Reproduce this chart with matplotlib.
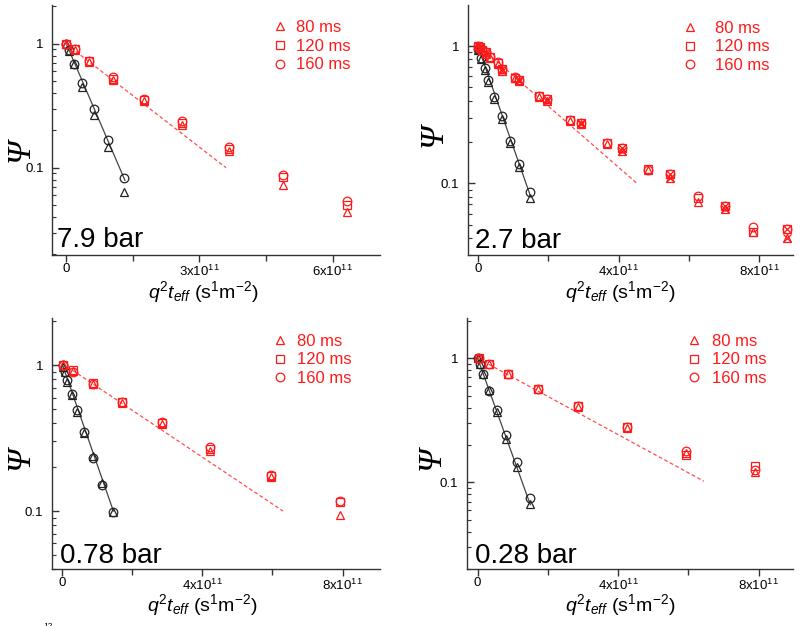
import numpy as np
import matplotlib
matplotlib.use('Agg')
import matplotlib.pyplot as plt
from matplotlib.ticker import LogLocator, NullFormatter, FixedLocator

plt.rcParams['font.family'] = ['Liberation Sans', 'DejaVu Sans']
plt.rcParams['mathtext.fontset'] = 'custom'
plt.rcParams['mathtext.rm'] = 'Liberation Sans'
plt.rcParams['mathtext.it'] = 'Liberation Sans:italic'

# ---- 7.9 bar ----
p1_red_x = [0, 2.0e10, 5.2e10, 1.06e11, 1.75e11, 2.62e11, 3.67e11, 4.88e11, 6.31e11]
p1_red_tri = [1.0, 0.89, 0.71, 0.51, 0.345, 0.222, 0.137, 0.073, 0.044]
p1_red_sq = [1.0, 0.90, 0.72, 0.52, 0.352, 0.230, 0.142, 0.084, 0.050]
p1_red_circ = [1.0, 0.90, 0.725, 0.535, 0.360, 0.237, 0.148, 0.087, 0.054]
p1_blk_x = [0, 7e9, 1.8e10, 3.75e10, 6.4e10, 9.4e10, 1.31e11]
p1_blk_tri = [1.0, 0.87, 0.68, 0.45, 0.268, 0.148, 0.064]
p1_blk_circ = [1.0, 0.89, 0.69, 0.48, 0.296, 0.167, 0.082]
p1_fit_red_x = [0, 3.6e11]
p1_fit_red_y = [1.0, 0.10]
p1_fit_blk_x = [0, 1.33e11]
p1_fit_blk_y = [1.02, 0.079]

# ---- 2.7 bar ----
p2_red_x = [0, 1.2e10, 3.5e10, 5.8e10, 1.06e11, 1.75e11, 2.62e11, 3.66e11, 4.85e11, 6.25e11, 7.83e11]
p2_red_tri = [1.0, 0.93, 0.82, 0.74, 0.58, 0.425, 0.285, 0.192, 0.124, 0.0735, 0.044]
p2_red_sq = [1.0, 0.94, 0.83, 0.75, 0.585, 0.435, 0.290, 0.197, 0.128, 0.078, 0.0441]
p2_red_circ = [1.0, 0.94, 0.835, 0.76, 0.59, 0.435, 0.290, 0.195, 0.125, 0.081, 0.0483]
p2_hat_x = [5e9, 2.2e10, 6.8e10, 1.18e11, 1.96e11, 2.94e11, 4.09e11, 5.46e11, 7.02e11, 8.78e11]
p2_hat_tri = [0.97, 0.88, 0.66, 0.555, 0.400, 0.268, 0.173, 0.110, 0.065, 0.040]
p2_hat_circ = [0.99, 0.90, 0.68, 0.570, 0.412, 0.276, 0.180, 0.117, 0.068, 0.046]
p2_blk_x = [0, 9e9, 1.9e10, 3.0e10, 4.7e10, 6.8e10, 9.2e10, 1.17e11, 1.49e11]
p2_blk_tri = [0.93, 0.80, 0.67, 0.55, 0.41, 0.295, 0.198, 0.132, 0.078]
p2_blk_circ = [0.95, 0.82, 0.69, 0.57, 0.425, 0.31, 0.203, 0.138, 0.086]
p2_fit_red_x = [0, 4.52e11]
p2_fit_red_y = [1.02, 0.10]
p2_fit_blk_x = [0, 1.5e11]
p2_fit_blk_y = [1.0, 0.08]

# ---- 0.78 bar ----
p3_red_x = [3e9, 3.1e10, 8.8e10, 1.71e11, 2.84e11, 4.23e11, 5.95e11, 7.92e11]
p3_red_tri = [1.0, 0.91, 0.745, 0.555, 0.395, 0.257, 0.172, 0.094]
p3_red_sq = [1.0, 0.93, 0.75, 0.56, 0.40, 0.265, 0.174, 0.116]
p3_red_circ = [1.0, 0.895, 0.745, 0.563, 0.405, 0.274, 0.176, 0.118]
p3_blk_x = [3e9, 8e9, 1.5e10, 2.7e10, 4.3e10, 6.3e10, 8.7e10, 1.14e11, 1.46e11]
p3_blk_tri = [0.98, 0.905, 0.77, 0.625, 0.48, 0.345, 0.24, 0.156, 0.098]
p3_blk_circ = [1.0, 0.905, 0.79, 0.633, 0.497, 0.348, 0.232, 0.152, 0.098]
p3_fit_red_x = [0, 6.3e11]
p3_fit_red_y = [1.03, 0.10]
p3_fit_blk_x = [0, 1.46e11]
p3_fit_blk_y = [1.02, 0.10]

# ---- 0.28 bar ----
p4_red_x = [4e9, 3.1e10, 8.7e10, 1.71e11, 2.85e11, 4.24e11, 5.92e11, 7.89e11]
p4_red_tri = [1.0, 0.90, 0.745, 0.56, 0.405, 0.275, 0.172, 0.12]
p4_red_sq = [1.0, 0.905, 0.745, 0.565, 0.41, 0.278, 0.167, 0.136]
p4_red_circ = [1.0, 0.905, 0.747, 0.565, 0.41, 0.278, 0.178, 0.126]
p4_blk_x = [0, 6.5e9, 1.6e10, 3.3e10, 5.4e10, 8.1e10, 1.11e11, 1.49e11]
p4_blk_tri = [1.0, 0.90, 0.74, 0.555, 0.371, 0.225, 0.134, 0.0672]
p4_blk_circ = [1.0, 0.905, 0.747, 0.548, 0.385, 0.242, 0.146, 0.0749]
p4_fit_red_x = [0, 6.44e11]
p4_fit_red_y = [1.0, 0.102]
p4_fit_blk_x = [0, 1.5e11]
p4_fit_blk_y = [1.0, 0.066]

legend_labels = ['80 ms', '120 ms', '160 ms']
panel_labels = ['7.9 bar', '2.7 bar', '0.78 bar', '0.28 bar']

RED = '#ff1a1a'
BLK = '#222222'
ms = 6.2
mew = 0.9

fig = plt.figure(figsize=(8, 6.26), dpi=100)


def make_axes(rect, xlim, ylim, xticks, xticklabels, xminor):
    ax = fig.add_axes(rect)
    ax.set_yscale('log')
    ax.set_xlim(*xlim)
    ax.set_ylim(*ylim)
    for s in ['top', 'right']:
        ax.spines[s].set_visible(False)
    for s in ['left', 'bottom']:
        ax.spines[s].set_color('#333333')
        ax.spines[s].set_linewidth(1.0)
    ax.set_xticks(xticks)
    ax.set_xticklabels(xticklabels, fontsize=9.5)
    ax.xaxis.set_minor_locator(FixedLocator(xminor))
    ax.set_yticks([0.1, 1])
    ax.set_yticklabels(['0.1', '1'], fontsize=9.5)
    ax.yaxis.set_minor_locator(LogLocator(base=10, subs=np.arange(2, 10)))
    ax.yaxis.set_minor_formatter(NullFormatter())
    ax.tick_params(axis='x', which='major', direction='out', length=5, width=1, pad=1, color='#333333')
    ax.tick_params(axis='x', which='minor', direction='out', length=4, width=1, color='#333333')
    ax.tick_params(axis='y', which='major', direction='in', length=5, width=1, pad=6, color='#333333')
    ax.tick_params(axis='y', which='minor', direction='in', length=3, width=0.8, color='#333333')
    return ax


def draw_red(ax, x, tri, sq, circ):
    h1, = ax.plot(x, tri, ls='none', marker='^', ms=ms, mfc='none', mec=RED, mew=mew)
    h2, = ax.plot(x, sq, ls='none', marker='s', ms=ms - 1, mfc='none', mec=RED, mew=mew)
    h3, = ax.plot(x, circ, ls='none', marker='o', ms=ms, mfc='none', mec=RED, mew=mew)
    return [h1, h2, h3]


def draw_blk(ax, x, tri, circ):
    ax.plot(x, tri, ls='none', marker='^', ms=ms, mfc='none', mec=BLK, mew=mew)
    ax.plot(x, circ, ls='none', marker='o', ms=ms, mfc='none', mec=BLK, mew=mew)


def finish(ax, handles, leg_xy, textpad, label, ylab_xy, xlab_xy):
    ax.legend(handles, legend_labels, loc='upper left', bbox_to_anchor=leg_xy,
              frameon=False, fontsize=12, handlelength=1.0, handletextpad=textpad,
              labelspacing=0.22, borderpad=0, borderaxespad=0, labelcolor=RED)
    ax.text(label[0], label[1], label[2], transform=ax.transAxes, fontsize=20,
            ha='left', va='baseline', color='black')
    ax.set_ylabel('Ψ', fontsize=24, family='Liberation Serif', style='italic')
    ax.yaxis.set_label_coords(*ylab_xy)
    ax.set_xlabel(r'$q^2t_{eff}$ (s$^1$m$^{-2}$)', fontsize=14)
    ax.xaxis.set_label_coords(*xlab_xy)


lab3 = ['0', '3x10$^{11}$', '6x10$^{11}$']
lab4 = ['0', '4x10$^{11}$', '8x10$^{11}$']

# panel 1
ax1 = make_axes([0.065, 0.5927, 0.41, 0.3993], (-3.1e10, 7.06e11), (0.0198, 2.05),
                [0, 3e11, 6e11], lab3, [1.5e11, 4.5e11])
ax1.plot(p1_fit_blk_x, p1_fit_blk_y, color='#444444', lw=0.9)
ax1.plot(p1_fit_red_x, p1_fit_red_y, color='#ff4d4d', lw=0.9, ls=(0, (3, 2)))
draw_blk(ax1, p1_blk_x, p1_blk_tri, p1_blk_circ)
h = draw_red(ax1, p1_red_x, p1_red_tri, p1_red_sq, p1_red_circ)
finish(ax1, h, (0.669, 0.94), 0.5, (0.015, 0.032, panel_labels[0]), (-0.05, 0.42), (0.46, -0.096))

# panel 2
ax2 = make_axes([0.5846, 0.5927, 0.4066, 0.3993], (-2.9e10, 8.96e11), (0.030, 1.99),
                [0, 4e11, 8e11], lab4, [2e11, 6e11])
ax2.plot(p2_fit_blk_x, p2_fit_blk_y, color='#444444', lw=0.9)
ax2.plot(p2_fit_red_x, p2_fit_red_y, color='#ff4d4d', lw=0.9, ls=(0, (3, 2)))
draw_blk(ax2, p2_blk_x, p2_blk_tri, p2_blk_circ)
h = draw_red(ax2, p2_red_x, p2_red_tri, p2_red_sq, p2_red_circ)
draw_red(ax2, p2_hat_x, p2_hat_tri, p2_hat_circ, p2_hat_circ)
ax2.plot(p2_hat_x, p2_hat_tri, ls='none', marker='x', ms=ms, mec=RED, mew=mew)
ax2.plot(p2_hat_x, p2_hat_circ, ls='none', marker='x', ms=ms, mec=RED, mew=mew)
finish(ax2, h, (0.659, 0.937), 1.0, (0.022, 0.028, panel_labels[1]), (-0.06, 0.48), (0.469, -0.096))

# panel 3
ax3 = make_axes([0.0646, 0.091, 0.41, 0.401], (-3.0e10, 9.06e11), (0.040, 2.11),
                [0, 4e11, 8e11], lab4, [2e11, 6e11])
ax3.plot(p3_fit_blk_x, p3_fit_blk_y, color='#444444', lw=0.9)
ax3.plot(p3_fit_red_x, p3_fit_red_y, color='#ff4d4d', lw=0.9, ls=(0, (3, 2)))
draw_blk(ax3, p3_blk_x, p3_blk_tri, p3_blk_circ)
h = draw_red(ax3, p3_red_x, p3_red_tri, p3_red_sq, p3_red_circ)
finish(ax3, h, (0.671, 0.937), 0.5, (0.025, 0.024, panel_labels[2]), (-0.05, 0.44), (0.46, -0.092))

# panel 4
ax4 = make_axes([0.5834, 0.091, 0.4076, 0.401], (-3.1e10, 8.97e11), (0.020, 2.11),
                [0, 4e11, 8e11], lab4, [2e11, 6e11])
ax4.plot(p4_fit_blk_x, p4_fit_blk_y, color='#444444', lw=0.9)
ax4.plot(p4_fit_red_x, p4_fit_red_y, color='#ff4d4d', lw=0.9, ls=(0, (3, 2)))
draw_blk(ax4, p4_blk_x, p4_blk_tri, p4_blk_circ)
h = draw_red(ax4, p4_red_x, p4_red_tri, p4_red_sq, p4_red_circ)
finish(ax4, h, (0.672, 0.937), 0.55, (0.025, 0.024, panel_labels[3]), (-0.06, 0.44), (0.47, -0.092))

# cut-off fragment at the bottom edge
fig.text(43 / 800, -0.006, '12', fontsize=6, va='bottom')

fig.savefig('out.png', dpi=100)
